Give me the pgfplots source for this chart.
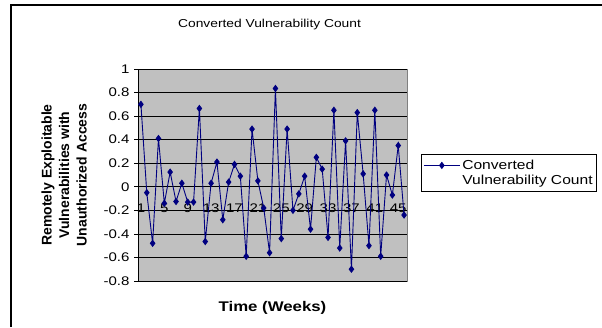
\documentclass[border=0pt]{standalone}
\usepackage{pgfplots}
\pgfplotsset{compat=1.18}
\usepackage{fontspec}
\setmainfont[FakeStretch=1.2]{Liberation Sans}
\newfontfamily\plainsans{Liberation Sans}
\definecolor{navyline}{HTML}{000080}
\definecolor{plotbg}{HTML}{C0C0C0}
\definecolor{plotborder}{HTML}{808080}
\pgfplotstableread{
x y
1 0.70
2 -0.05
3 -0.48
4 0.41
5 -0.14
6 0.125
7 -0.125
8 0.03
9 -0.13
10 -0.13
11 0.665
12 -0.465
13 0.03
14 0.21
15 -0.28
16 0.04
17 0.19
18 0.09
19 -0.59
20 0.49
21 0.05
22 -0.18
23 -0.56
24 0.835
25 -0.44
26 0.49
27 -0.20
28 -0.06
29 0.09
30 -0.36
31 0.25
32 0.15
33 -0.43
34 0.65
35 -0.52
36 0.39
37 -0.70
38 0.63
39 0.11
40 -0.50
41 0.65
42 -0.59
43 0.10
44 -0.07
45 0.35
46 -0.24
}\datatable
\begin{document}
\begin{tikzpicture}[x=1pt,y=1pt]
\useasboundingbox (0,0) rectangle (602,327);
\draw[line width=1.5pt] (11,0) -- (11,322) -- (602,322);
\begin{axis}[
  at={(138pt,46pt)}, anchor=south west,
  scale only axis, width=269pt, height=212pt,
  xmin=0.5, xmax=46.5, ymin=-0.8, ymax=1,
  axis x line=middle, axis y line=left,
  axis line style={-, black, line width=0.8pt},
  axis background/.style={fill=plotbg, draw=plotborder, line width=0.8pt},
  ytick={-0.8,-0.6,-0.4,-0.2,0,0.2,0.4,0.6,0.8,1},
  yticklabels={-0.8,-0.6,-0.4,-0.2,0,0.2,0.4,0.6,0.8,1},
  xtick={1,5,9,13,17,21,25,29,33,37,41,45},
  xtick style={draw=none},
  minor xtick={0.5,1.5,...,46.5},
  minor tick length=6pt, major tick length=8pt, tick align=center,
  tick style={black, line width=0.6pt},
  ymajorgrids, major grid style={black, line width=0.6pt},
  tick label style={font=\fontsize{12.5}{14}\selectfont},
  /pgf/number format/assume math mode=true,
  xticklabel style={yshift=-12pt, inner sep=1pt},
  yticklabel style={xshift=-1pt},
  every axis x label/.style={at={(axis description cs:0.5,-0.127)}, anchor=center, font=\fontsize{14}{15}\selectfont\bfseries},
  every axis y label/.style={at={(axis description cs:-0.275,0.5)}, rotate=90, anchor=center, align=center, font=\plainsans\fontsize{14}{17.5}\selectfont\bfseries},
  xlabel={Time (Weeks)},
  ylabel={Remotely Exploitable\\Vulnerabilities with\\Unauthorized Access},
  every axis title shift=0pt,
  title={Converted Vulnerability Count},
  title style={at={(axis description cs:0.489,1.208)}, anchor=center, font=\fontsize{11.5}{14}\selectfont},
  legend style={at={(1.052,0.599)}, anchor=north west, draw=black, line width=0.8pt, font=\fontsize{13}{15}\selectfont, inner xsep=2pt, inner ysep=3pt},
  legend cell align=left,
  legend image code/.code={\draw[#1, mark repeat=2, mark phase=2, yshift=7.5pt] plot coordinates {(0pt,0pt) (18pt,0pt) (36pt,0pt)};},
]
\addplot[color=navyline, line width=0.9pt, mark=diamond*, mark size=3pt, mark options={fill=navyline, draw=navyline, solid}] table[x=x, y=y] {\datatable};
\addlegendentry{\begin{tabular}[b]{@{}l@{}}Converted\\Vulnerability Count\end{tabular}}
\end{axis}
\end{tikzpicture}
\end{document}
